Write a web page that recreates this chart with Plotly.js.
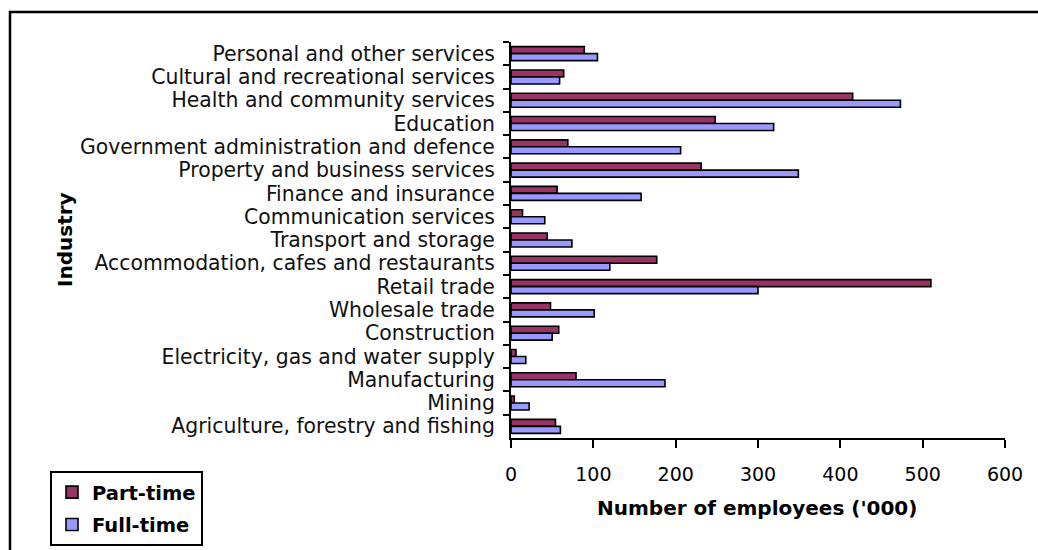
<!DOCTYPE html>
<html>
<head>
<meta charset="utf-8">
<script src="https://cdn.plot.ly/plotly-3.0.1.min.js"></script>
<style>
html,body{margin:0;padding:0;background:#fff;}
#chart{width:1038px;height:550px;}
</style>
</head>
<body>
<div id="chart"></div>
<script>
const industries = [
  "Agriculture, forestry and fishing",
  "Mining",
  "Manufacturing",
  "Electricity, gas and water supply",
  "Construction",
  "Wholesale trade",
  "Retail trade",
  "Accommodation, cafes and restaurants",
  "Transport and storage",
  "Communication services",
  "Finance and insurance",
  "Property and business services",
  "Government administration and defence",
  "Education",
  "Health and community services",
  "Cultural and recreational services",
  "Personal and other services"
];
const partTime = [54, 4, 79, 6, 58, 48, 510, 177, 44, 14, 56, 231, 69, 248, 415, 64, 89];
const fullTime = [60, 22, 187, 18, 50, 101, 300, 120, 74, 41, 158, 349, 206, 319, 473, 59, 105];
const xTicks = [0, 100, 200, 300, 400, 500, 600];

const W = 1038, H = 550;
const L = 511, R = 33, T = 42, B = 112;
const pw = W - L - R, ph = H - T - B;
const px = x => (x - L) / pw;
const py = y => (H - B - y) / ph;

const font = "DejaVu Sans, Verdana, sans-serif";

const traces = [
  {
    type: "bar", orientation: "h", name: "Part-time", legendgroup: "a",
    y: industries, x: partTime,
    marker: {color: "#993366", line: {color: "#000", width: 1.6}}
  },
  {
    type: "bar", orientation: "h", name: "Full-time", legendgroup: "b",
    y: industries, x: fullTime,
    marker: {color: "#9999FF", line: {color: "#000", width: 1.6}}
  }
];

const layout = {
  width: W, height: H,
  margin: {l: L, r: R, t: T, b: B, pad: 0, autoexpand: false},
  paper_bgcolor: "#fff", plot_bgcolor: "#fff",
  barmode: "group", bargap: 0.4, bargroupgap: 0,
  showlegend: true,
  legend: {
    x: px(50), y: py(471), xanchor: "left", yanchor: "top",
    traceorder: "grouped",
    bordercolor: "#000", borderwidth: 2, bgcolor: "#fff",
    font: {family: font, size: 19.5, color: "#000", weight: "bold"},
    itemwidth: 30, tracegroupgap: 4,
    entrywidth: 138, entrywidthmode: "pixels"
  },
  xaxis: {
    range: [0, 600], tickvals: xTicks, ticktext: xTicks.map(String),
    showgrid: false, zeroline: false,
    showline: true, linecolor: "#000", linewidth: 2,
    ticks: "outside", ticklen: 8, tickwidth: 2, tickcolor: "#000",
    tickfont: {family: font, size: 19, color: "#000"},
    ticklabelstandoff: 10,
    fixedrange: true
  },
  yaxis: {
    type: "category", categoryorder: "array",
    categoryarray: industries.slice().reverse(),
    autorange: "reversed",
    tickmode: "linear", tick0: 0, dtick: 1,
    showgrid: false, zeroline: false,
    showline: true, linecolor: "#000", linewidth: 2,
    ticks: "outside", ticklen: 6, tickwidth: 2, tickcolor: "#000",
    tickson: "boundaries",
    tickfont: {family: font, size: 20.4, color: "#111"},
    ticklabelstandoff: 10,
    fixedrange: true
  },
  annotations: [
    {
      text: "Industry", xref: "paper", yref: "paper",
      x: px(65), y: py(240), xanchor: "center", yanchor: "middle",
      textangle: -90, showarrow: false,
      font: {family: font, size: 20, color: "#000", weight: "bold"}
    },
    {
      text: "Number of employees ('000)", xref: "paper", yref: "paper",
      x: px(757), y: py(508), xanchor: "center", yanchor: "middle",
      showarrow: false,
      font: {family: font, size: 20, color: "#000", weight: "bold"}
    }
  ],
  shapes: [
    {
      type: "rect", xref: "paper", yref: "paper",
      x0: px(10), x1: px(1060), y0: py(580), y1: py(12),
      line: {color: "#000", width: 2.5}, fillcolor: "rgba(0,0,0,0)", layer: "below"
    }
  ]
};

Plotly.newPlot("chart", traces, layout, {displayModeBar: false, staticPlot: true});
</script>
</body>
</html>
